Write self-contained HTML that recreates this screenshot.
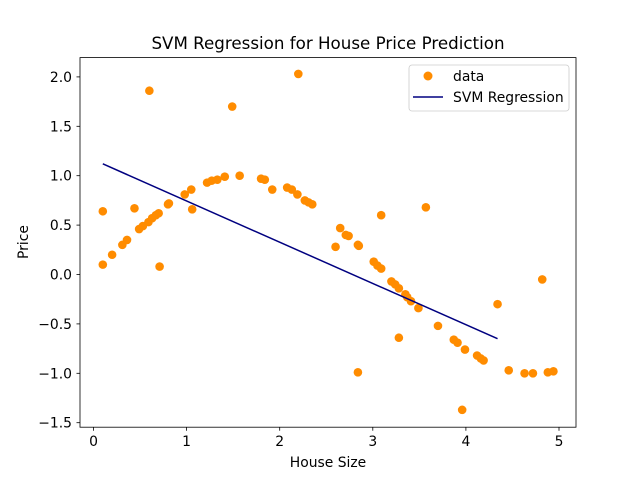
<!DOCTYPE html>
<html><head><meta charset="utf-8"><style>
html,body{margin:0;padding:0;background:#fff}
svg{display:block;font-family:"DejaVu Sans","Liberation Sans",sans-serif}
</style></head><body>
<svg id="chart" width="640" height="480" viewBox="0 0 640 480">
<rect width="640" height="480" fill="#fff"/>
<text x="328" y="49" text-anchor="middle" font-size="16.7" fill="#000">SVM Regression for House Price Prediction</text>
<g id="ticks"></g>
<g id="marks"></g>
<rect x="80" y="57.6" width="496" height="369.6" fill="none" stroke="#000" stroke-width="0.8"/>
<text x="328" y="467" text-anchor="middle" font-size="13.9">House Size</text>
<text x="28" y="242" text-anchor="middle" font-size="13.9" transform="rotate(-90 28 242)">Price</text>
<g>
<rect x="409" y="65" width="160" height="46" rx="3" fill="#fff" stroke="#ccc" stroke-width="0.8"/>
<circle cx="428" cy="76" r="4.5" fill="#ff8c00"/>
<text x="453" y="81" font-size="13.9">data</text>
<line x1="413" y1="97" x2="443" y2="97" stroke="#000080" stroke-width="1.5"/>
<text x="453" y="102" font-size="13.9">SVM Regression</text>
</g>
</svg>
<script>
const xData=[0.10,0.10,0.20,0.31,0.36,0.44,0.49,0.53,0.59,0.60,0.63,0.67,0.70,0.71,0.80,0.81,0.98,1.05,1.06,1.22,1.27,1.33,1.41,1.49,1.57,1.80,1.84,1.92,2.08,2.13,2.19,2.20,2.27,2.31,2.35,2.60,2.65,2.71,2.74,2.84,2.85,2.84,3.01,3.05,3.09,3.09,3.20,3.24,3.28,3.28,3.35,3.37,3.41,3.49,3.57,3.70,3.87,3.91,3.96,3.99,4.12,4.16,4.19,4.34,4.46,4.63,4.72,4.82,4.88,4.94];
const yData=[0.64,0.10,0.20,0.30,0.35,0.67,0.46,0.49,0.53,1.86,0.57,0.60,0.62,0.08,0.71,0.72,0.81,0.86,0.66,0.93,0.95,0.96,0.99,1.70,1.00,0.97,0.96,0.86,0.88,0.86,0.81,2.03,0.75,0.73,0.71,0.28,0.47,0.40,0.39,0.30,0.29,-0.99,0.13,0.09,0.06,0.60,-0.07,-0.10,-0.14,-0.64,-0.20,-0.23,-0.27,-0.34,0.68,-0.52,-0.66,-0.69,-1.37,-0.76,-0.82,-0.85,-0.87,-0.30,-0.97,-1.00,-1.00,-0.05,-0.99,-0.98];
const lineX=[0.10,4.34];
const lineY=[1.12,-0.65];
const xTicks=[0,1,2,3,4,5];
const yTicks=[-1.5,-1.0,-0.5,0.0,0.5,1.0,1.5,2.0];
const NS='http://www.w3.org/2000/svg';
function sx(v){return 93.5+v*93.1;}
function sy(v){return 274.5-v*98.8;}
function mk(tag,attrs,parent){const e=document.createElementNS(NS,tag);for(const k in attrs)e.setAttribute(k,attrs[k]);parent.appendChild(e);return e;}
const tg=document.getElementById('ticks'),mg=document.getElementById('marks');
xTicks.forEach(t=>{
 const l=mk('line',{x1:sx(t),x2:sx(t),y1:427.2,y2:430.7,stroke:'#000','stroke-width':0.8},tg);
 
 
 const tx=mk('text',{x:sx(t),y:446,'text-anchor':'middle','font-size':13.9},tg);
 tx.textContent=String(t);
 
 
});
yTicks.forEach(t=>{
 const l=mk('line',{x1:76.5,x2:80,y1:sy(t),y2:sy(t),stroke:'#000','stroke-width':0.8},tg);
 
 
 const tx=mk('text',{x:72,y:sy(t)+5,'text-anchor':'end','font-size':13.9},tg);
 tx.textContent=(t<0?'\u2212':'')+Math.abs(t).toFixed(1);
 
 
});
xData.forEach((x,i)=>{
 const c=mk('circle',{cx:sx(x),cy:sy(yData[i]),r:4.3,fill:'#ff8c00'},mg);
 
 
});
const pts=lineX.map((x,i)=>sx(x)+','+sy(lineY[i])).join(' ');
const pl=mk('polyline',{points:pts,fill:'none',stroke:'#000080','stroke-width':1.5},mg);


</script>
</body></html>
